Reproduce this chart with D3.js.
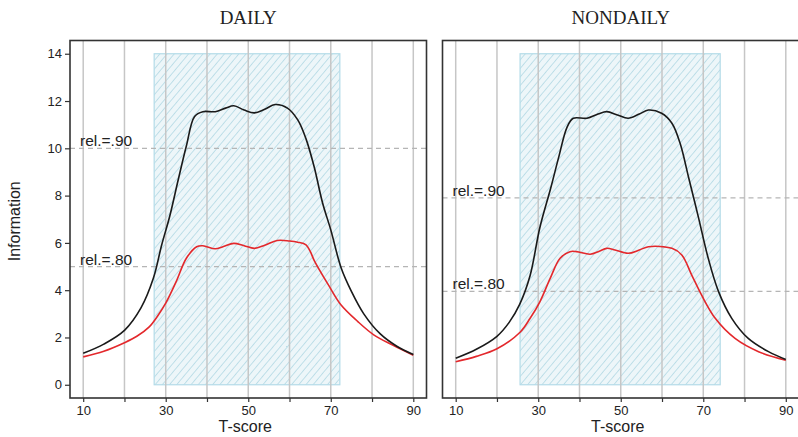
<!DOCTYPE html>
<html>
<head>
<meta charset="utf-8">
<script src="https://cdn.jsdelivr.net/npm/d3@7"></script>
<style>
body { margin: 0; background: #fff; }
text { font-family: "Liberation Sans", Arial, sans-serif; fill: #222; }
</style>
</head>
<body>
<svg id="svg" width="798" height="437"></svg>
<script>
// panel titles
var panelTitles = ["DAILY", "NONDAILY"];

// daily information curves
var tDailyBlack = [10,15,20,24,27,29,31,33,35,37,39,42,44.5,46.5,49,51.5,54,56.5,59.5,62,64,66,68,70,72.5,75,78,82,86,90];
var infoDailyBlack = [1.33,1.72,2.3,3.25,4.5,5.9,7.15,8.65,10.1,11.35,11.55,11.55,11.7,11.8,11.62,11.5,11.65,11.85,11.7,11.2,10.4,9.2,7.7,6.55,4.95,3.95,3.0,2.15,1.63,1.28];
var tDailyRed = [10,15,20,23,26,28,30,32.5,35,37.5,39,42,44,46.5,49,51.5,54,57,60,62,64,65,66,69.5,72.5,76.5,80.5,85,90];
var infoDailyRed = [1.18,1.42,1.78,2.05,2.45,2.9,3.45,4.35,5.35,5.84,5.88,5.75,5.85,5.98,5.88,5.77,5.9,6.1,6.08,6.03,5.92,5.65,5.25,4.2,3.37,2.68,2.1,1.68,1.25];

// nondaily information curves
var tNondailyBlack = [10,15,20,23,25.5,28,30.4,33,35,37,38.5,41.8,44.5,46.6,49.2,51.8,54.5,56.7,59.9,62.4,64.4,66.4,68.8,71.2,73.7,76.9,80.9,85.8,90];
var infoNondailyBlack = [1.12,1.5,2.05,2.65,3.4,4.6,6.65,8.3,9.65,10.9,11.27,11.27,11.45,11.55,11.41,11.27,11.45,11.62,11.48,11.06,10.2,8.8,7.1,5.35,3.94,2.81,1.96,1.4,1.07];
var tNondailyRed = [10,15,20,25.6,28,30.4,32.9,35.3,37.7,39.3,42.6,44.8,46.6,48.6,51.8,54.5,56.7,62.4,64.8,67.2,69.6,72.9,77.7,83.4,90];
var infoNondailyRed = [0.97,1.2,1.52,2.22,2.8,3.51,4.5,5.35,5.63,5.63,5.52,5.65,5.77,5.7,5.56,5.7,5.84,5.77,5.49,4.64,3.79,2.81,1.96,1.4,1.04];

// reliability reference lines
var relLabels = ["rel.=.90", "rel.=.80"];
var relDaily = [10, 5];
var relNondaily = [7.9, 3.95];

// shaded T-score range
var bandDaily = [27.2, 72.2];
var bandNondaily = [25.6, 74.1];

// ticks
var xTicks = [10,20,30,40,50,60,70,80,90];
var xTickLabels = [10,30,50,70,90];
var yTicks = [0,2,4,6,8,10,12,14];

var panels = [
    {title: panelTitles[0], left: 70, tB: tDailyBlack, vB: infoDailyBlack, tR: tDailyRed, vR: infoDailyRed, rel: relDaily, band: bandDaily, yAxis: true},
    {title: panelTitles[1], left: 442.5, tB: tNondailyBlack, vB: infoNondailyBlack, tR: tNondailyRed, vR: infoNondailyRed, rel: relNondaily, band: bandNondaily, yAxis: false}
];

var svg = d3.select("#svg");
var panelTop = 40.5, panelW = 356.5, panelH = 357.5;

var x = d3.scaleLinear().domain([6.8, 93.2]).range([0, panelW]);
var y = d3.scaleLinear().domain([-0.56, 14.56]).range([panelH, 0]);

var defs = svg.append("defs");
var pat = defs.append("pattern")
    .attr("id", "hatch")
    .attr("patternUnits", "userSpaceOnUse")
    .attr("width", 5.5)
    .attr("height", 5.5)
    .attr("patternTransform", "rotate(40)");
pat.append("rect").attr("width", 5.5).attr("height", 5.5).attr("fill", "#edf6f9");
pat.append("line")
    .attr("x1", 0).attr("y1", 0).attr("x2", 0).attr("y2", 5.5)
    .attr("stroke", "#abd5e2").attr("stroke-width", 1.4);

var line = d3.line()
    .x(function(d) { return x(d[0]); })
    .y(function(d) { return y(d[1]); })
    .curve(d3.curveCatmullRom.alpha(0.5));

panels.forEach(function(p) {
    var g = svg.append("g").attr("transform", "translate(" + p.left + "," + panelTop + ")");

    // hatched band
    g.append("rect")
        .attr("x", x(p.band[0]))
        .attr("y", y(14))
        .attr("width", x(p.band[1]) - x(p.band[0]))
        .attr("height", y(0) - y(14))
        .attr("fill", "url(#hatch)")
        .attr("stroke", "#b3dbe8")
        .attr("stroke-width", 1.2);

    // vertical grid
    g.selectAll(".grid").data(xTicks).enter().append("line")
        .attr("x1", function(d) { return x(d); })
        .attr("x2", function(d) { return x(d); })
        .attr("y1", 0).attr("y2", panelH)
        .attr("stroke", "#c6c6c6")
        .attr("stroke-width", 1.5);

    // reliability lines
    p.rel.forEach(function(v, i) {
        g.append("line")
            .attr("x1", 0).attr("x2", panelW)
            .attr("y1", y(v)).attr("y2", y(v))
            .attr("stroke", "#b5b5b5")
            .attr("stroke-width", 1.2)
            .attr("stroke-dasharray", "5,4");
        g.append("text")
            .attr("x", 10)
            .attr("y", y(v) - 2)
            .style("font-size", "15.5px")
            .text(relLabels[i]);
    });

    // curves
    g.append("path")
        .datum(d3.zip(p.tR, p.vR))
        .attr("d", line)
        .attr("fill", "none")
        .attr("stroke", "#e3282c")
        .attr("stroke-width", 1.6);
    g.append("path")
        .datum(d3.zip(p.tB, p.vB))
        .attr("d", line)
        .attr("fill", "none")
        .attr("stroke", "#1a1a1a")
        .attr("stroke-width", 1.6);

    // frame
    g.append("rect")
        .attr("width", panelW).attr("height", panelH)
        .attr("fill", "none")
        .attr("stroke", "#333")
        .attr("stroke-width", 1.6);

    // x axis
    var xa = g.append("g").attr("transform", "translate(0," + panelH + ")")
        .call(d3.axisBottom(x).tickValues(xTicks).tickSize(4).tickFormat(function(d) {
            return xTickLabels.indexOf(d) >= 0 ? d : "";
        }));
    xa.select(".domain").remove();
    xa.selectAll("line").attr("stroke", "#333").attr("stroke-width", 1.2);
    xa.selectAll("text").style("font-size", "13px").attr("fill", "#222").attr("dy", "0.95em").attr("y", 5);

    g.append("text")
        .attr("x", panelW / 2 - 3)
        .attr("y", panelH + 34)
        .attr("text-anchor", "middle")
        .style("font-size", "16px")
        .text("T-score");

    // title
    svg.append("text")
        .attr("x", p.left + panelW / 2)
        .attr("y", 24)
        .attr("text-anchor", "middle")
        .style("font-size", "19px")
        .style("font-family", "'Liberation Serif', 'Times New Roman', serif")
        .text(p.title);

    if (p.yAxis) {
        var ya = g.append("g")
            .call(d3.axisLeft(y).tickValues(yTicks).tickSize(5).tickPadding(3));
        ya.select(".domain").remove();
        ya.selectAll("line").attr("stroke", "#333").attr("stroke-width", 1.2);
        ya.selectAll("text").style("font-size", "13px").attr("fill", "#222");

        g.append("text")
            .attr("transform", "translate(-50," + (panelH / 2 + 2) + ") rotate(-90)")
            .attr("text-anchor", "middle")
            .style("font-size", "16px")
            .text("Information");
    }
});
</script>
</body>
</html>
